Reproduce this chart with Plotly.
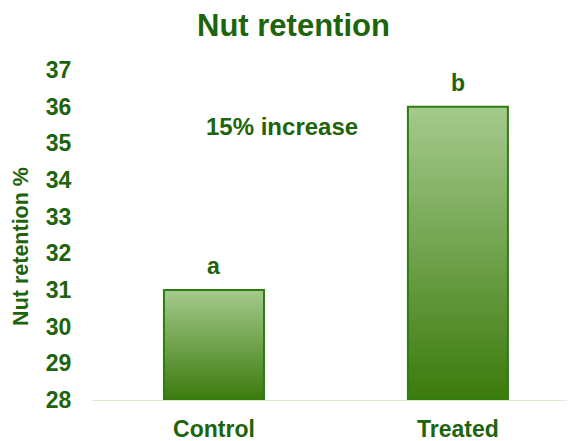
import plotly.graph_objects as go

categories = ["Control", "Treated"]
values = [31.0, 36.0]
letters = ["a", "b"]
y_ticks = [28, 29, 30, 31, 32, 33, 34, 35, 36, 37]
y_min = 28

DARK = "#1d640c"
bar_w = 0.41

fig = go.Figure()
for i, (c, v) in enumerate(zip(categories, values)):
    xs = [i - bar_w / 2, i + bar_w / 2, i + bar_w / 2, i - bar_w / 2, i - bar_w / 2]
    ys = [y_min, y_min, v, v, y_min]
    fig.add_trace(go.Scatter(
        x=xs, y=ys, mode="lines", fill="toself",
        line=dict(color="#2f7d12", width=2),
        fillgradient=dict(type="vertical",
                          colorscale=[[0, "#3b7a0c"], [1, "#a5ca8d"]]),
        hoverinfo="skip", showlegend=False,
    ))
    fig.add_annotation(x=i, y=v, text=f"<b>{letters[i]}</b>", showarrow=False, yshift=24,
                       font=dict(size=23, color=DARK, family="Liberation Sans"))

fig.add_annotation(x=0.279, y=35.46, text="<b>15% increase</b>", showarrow=False,
                   font=dict(size=24, color=DARK, family="Liberation Sans"))

# y-axis title placed as rotated annotation
fig.add_annotation(xref="paper", yref="paper", x=-0.147, y=0.467,
                   xanchor="center", yanchor="middle",
                   text="<b>Nut retention %</b>", textangle=-90, showarrow=False,
                   font=dict(size=21.5, color=DARK, family="Liberation Sans"))

fig.update_layout(
    width=567, height=433,
    margin=dict(l=84, r=0, t=62, b=41),
    paper_bgcolor="white", plot_bgcolor="white",
    font=dict(family="Liberation Sans", color=DARK),
    title=dict(text="<b>Nut retention</b>", x=0.5035, xanchor="center", y=0.961,
               yanchor="middle", font=dict(size=31, color=DARK)),
    xaxis=dict(range=[-0.5, 1.48], tickmode="array", tickvals=[0, 1],
               ticktext=[f"<b>{c}</b>" for c in categories],
               tickfont=dict(size=23, color=DARK), automargin=False,
               showgrid=False, zeroline=False, showline=True,
               linecolor="#d9ecd0", linewidth=1,
               ticks="outside", ticklen=8, tickcolor="rgba(0,0,0,0)"),
    yaxis=dict(range=[28, 37], tickmode="array", tickvals=y_ticks,
               ticktext=[f"<b>{t}</b>" for t in y_ticks],
               tickfont=dict(size=23, color=DARK), automargin=False,
               showgrid=False, zeroline=False, showline=False,
               ticks="outside", ticklen=15, tickcolor="rgba(0,0,0,0)"),
)

fig.write_html("out.html")
